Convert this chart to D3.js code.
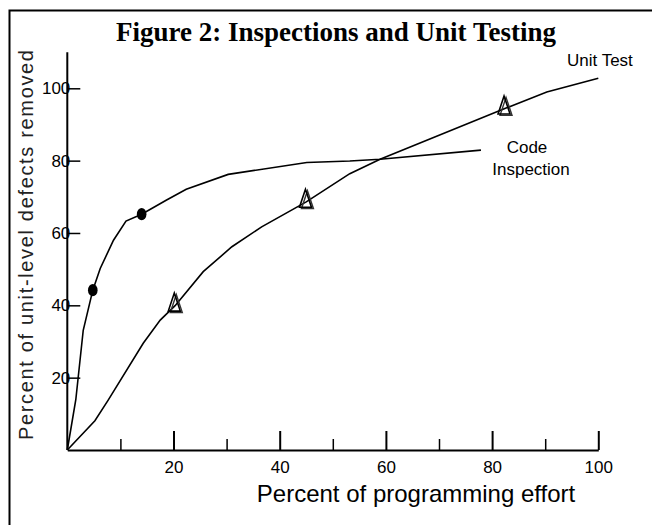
<!DOCTYPE html>
<meta charset="utf-8">
<style>
  body { margin: 0; background: #fff; }
  text { font-family: "Liberation Sans", Arial, sans-serif; fill: #000; }
</style>
<svg width="652" height="525"></svg>
<script src="https://d3js.org/d3.v7.min.js"></script>
<script>
// percent of programming effort vs percent of unit-level defects removed
var inspectionX = [0, 1.6, 3.0, 4.8, 6.2, 8.7, 11.05, 14.0, 18.7, 22.4, 30.3, 45.1, 53.2, 58.9, 77.9]
var inspectionY = [0, 13.9, 33.1, 44.2, 50.2, 58, 63.3, 65.2, 69.1, 72.1, 76.2, 79.5, 79.9, 80.4, 82.9]
var inspectionMarks = [[4.8, 44.2], [14.0, 65.2]]

var unitX = [0, 5.2, 7.7, 14.3, 17.5, 20.3, 25.6, 31, 36.6, 45, 53.2, 58.9, 82.4, 90.3, 100]
var unitY = [0, 8.1, 13.8, 29.5, 35.9, 39.9, 49.3, 56.2, 61.7, 68.6, 76.4, 80.4, 94.4, 99, 102.8]
var unitMarks = [[20.3, 39.9], [45, 68.6], [82.4, 94.4]]

var xMajor = [20, 40, 60, 80, 100]
var xMinor = [10, 30, 50, 70, 90]
var yTicks = [20, 40, 60, 80, 100]

var svg = d3.select('svg')

// frame
svg.append('path')
  .attr('d', 'M9.5,530 V10.5 H660')
  .attr('fill', 'none')
  .attr('stroke', '#000')
  .attr('stroke-width', 2)

var x = d3.scaleLinear().domain([0, 100]).range([67.3, 598.3])
var y = d3.scaleLinear().domain([0, 100]).range([450, 88.3])

svg.append('text')
  .attr('x', 336).attr('y', 41)
  .attr('text-anchor', 'middle')
  .style('font-family', '"Liberation Serif", "Times New Roman", serif')
  .style('font-weight', 'bold')
  .style('font-size', '27px')
  .text('Figure 2: Inspections and Unit Testing')

// y axis
var yAxis = svg.append('g')
  .attr('transform', 'translate(' + x(0) + ',0)')
  .call(d3.axisLeft(y).tickValues(yTicks).tickSize(-13).tickPadding(-3).tickSizeOuter(0))
yAxis.select('.domain').remove()
yAxis.selectAll('line').attr('stroke-width', 1.5)
yAxis.selectAll('text').style('font-size', '17px').style('font-family', '"Liberation Sans", Arial, sans-serif')

svg.append('line')
  .attr('x1', x(0)).attr('x2', x(0))
  .attr('y1', y(0)).attr('y2', y(110))
  .attr('stroke', '#000').attr('stroke-width', 2)

// x axis
var xAxis = svg.append('g')
  .attr('transform', 'translate(0,' + y(0) + ')')
  .call(d3.axisBottom(x).tickValues(xMajor).tickSize(-19).tickPadding(11).tickSizeOuter(0))
xAxis.select('.domain').attr('stroke-width', 2)
xAxis.selectAll('line').attr('stroke-width', 2)
xAxis.selectAll('text').style('font-size', '17px').style('font-family', '"Liberation Sans", Arial, sans-serif')

var xMinorAxis = svg.append('g')
  .attr('transform', 'translate(0,' + y(0) + ')')
  .call(d3.axisBottom(x).tickValues(xMinor).tickSize(-11).tickFormat(''))
xMinorAxis.select('.domain').remove()
xMinorAxis.selectAll('line').attr('stroke-width', 1.5)

// axis titles
svg.append('text')
  .attr('x', 416).attr('y', 502)
  .attr('text-anchor', 'middle')
  .style('font-size', '24px')
  .text('Percent of programming effort')

svg.append('text')
  .attr('transform', 'translate(33,245) rotate(-90)')
  .attr('text-anchor', 'middle')
  .attr('textLength', 390)
  .attr('lengthAdjust', 'spacing')
  .style('font-size', '20px')
  .style('fill', '#222')
  .text('Percent of unit-level defects removed')

// curves
var line = d3.line()
  .x(function (d) { return x(d[0]) })
  .y(function (d) { return y(d[1]) })

svg.append('path')
  .datum(d3.zip(inspectionX, inspectionY))
  .attr('d', line)
  .attr('fill', 'none')
  .attr('stroke', '#000')
  .attr('stroke-width', 1.6)

svg.append('path')
  .datum(d3.zip(unitX, unitY))
  .attr('d', line)
  .attr('fill', 'none')
  .attr('stroke', '#000')
  .attr('stroke-width', 1.6)

svg.append('g').selectAll('ellipse')
  .data(inspectionMarks)
  .enter().append('ellipse')
    .attr('cx', function (d) { return x(d[0]) })
    .attr('cy', function (d) { return y(d[1]) })
    .attr('rx', 4.8)
    .attr('ry', 6.2)
    .attr('fill', '#000')

// hollow triangle with a shadow outline
var tri = 'M0,-12 L6,6 L-6,6 Z'
var marks = svg.append('g').selectAll('g')
  .data(unitMarks)
  .enter().append('g')
    .attr('transform', function (d) { return 'translate(' + x(d[0]) + ',' + y(d[1]) + ')' })
marks.append('path')
  .attr('d', tri)
  .attr('transform', 'translate(1.2,0.8)')
  .attr('fill', 'none')
  .attr('stroke', '#333')
  .attr('stroke-width', 1.4)
marks.append('path')
  .attr('d', tri)
  .attr('transform', 'translate(-0.8,-0.6)')
  .attr('fill', 'none')
  .attr('stroke', '#000')
  .attr('stroke-width', 1.6)

// series labels
svg.append('text')
  .attr('x', 567).attr('y', 66)
  .style('font-size', '17px')
  .text('Unit Test')

svg.append('text')
  .attr('x', 527).attr('y', 153)
  .attr('text-anchor', 'middle')
  .style('font-size', '17px')
  .text('Code')

svg.append('text')
  .attr('x', 531).attr('y', 175)
  .attr('text-anchor', 'middle')
  .style('font-size', '17px')
  .text('Inspection')
</script>
